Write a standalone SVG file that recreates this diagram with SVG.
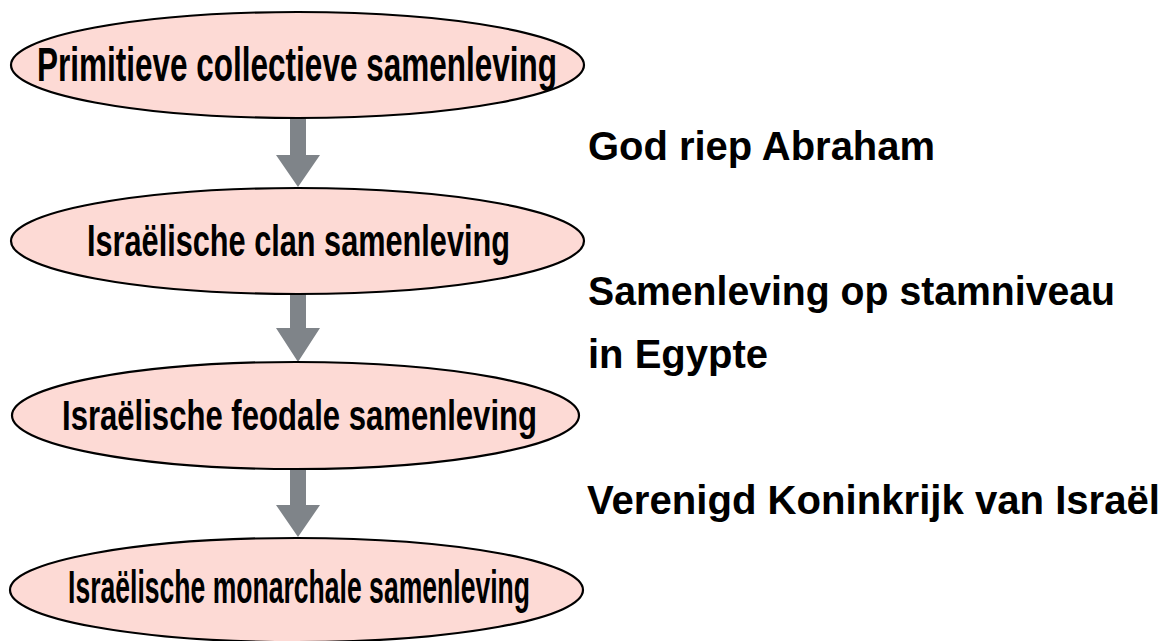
<svg xmlns="http://www.w3.org/2000/svg" width="1169" height="641" viewBox="0 0 1169 641">
<style>
.node ellipse{fill:#FDDAD5;stroke:#000;stroke-width:2.2}
.nt{font-family:"Liberation Sans","DejaVu Sans",sans-serif;font-weight:bold;fill:#000}
.side{font-family:"Liberation Sans","DejaVu Sans",sans-serif;font-weight:bold;font-size:40px;fill:#000}
.arr{fill:#7F8489}
</style>
<rect width="1169" height="641" fill="#fff"/>
<g id="connectors">
<path class="arr" d="M290,118 H306 V155 H320 L298,187 L276,155 H290 Z"/>
<path class="arr" d="M290,294 H306 V328 H320 L298,362 L276,328 H290 Z"/>
<path class="arr" d="M290,469 H306 V505 H320 L298,537 L276,505 H290 Z"/>
</g>
<g id="node1" class="node">
<ellipse cx="297.5" cy="65" rx="286.5" ry="53"/>
<text class="nt" x="37" y="81" font-size="49" textLength="520" lengthAdjust="spacingAndGlyphs">Primitieve collectieve samenleving</text>
</g>
<g id="node2" class="node">
<ellipse cx="297.5" cy="241" rx="286.5" ry="53"/>
<text class="nt" x="87" y="256" font-size="45" textLength="423" lengthAdjust="spacingAndGlyphs">Israëlische clan samenleving</text>
</g>
<g id="node3" class="node">
<ellipse cx="295.5" cy="415.5" rx="283.5" ry="53.5"/>
<text class="nt" x="62" y="430" font-size="43" textLength="475" lengthAdjust="spacingAndGlyphs">Israëlische feodale samenleving</text>
</g>
<g id="node4" class="node">
<ellipse cx="296.5" cy="590" rx="286.5" ry="52"/>
<text class="nt" x="68" y="603" font-size="46" textLength="462" lengthAdjust="spacingAndGlyphs">Israëlische monarchale samenleving</text>
</g>
<g id="label1">
<text class="side" x="588" y="160" textLength="347" lengthAdjust="spacingAndGlyphs">God riep Abraham</text>
</g>
<g id="label2">
<text class="side" x="588" y="305" textLength="527" lengthAdjust="spacingAndGlyphs">Samenleving op stamniveau</text>
<text class="side" x="588" y="368" textLength="180" lengthAdjust="spacingAndGlyphs">in Egypte</text>
</g>
<g id="label3">
<text class="side" x="587" y="514" textLength="573" lengthAdjust="spacingAndGlyphs">Verenigd Koninkrijk van Israël</text>
</g>
</svg>
